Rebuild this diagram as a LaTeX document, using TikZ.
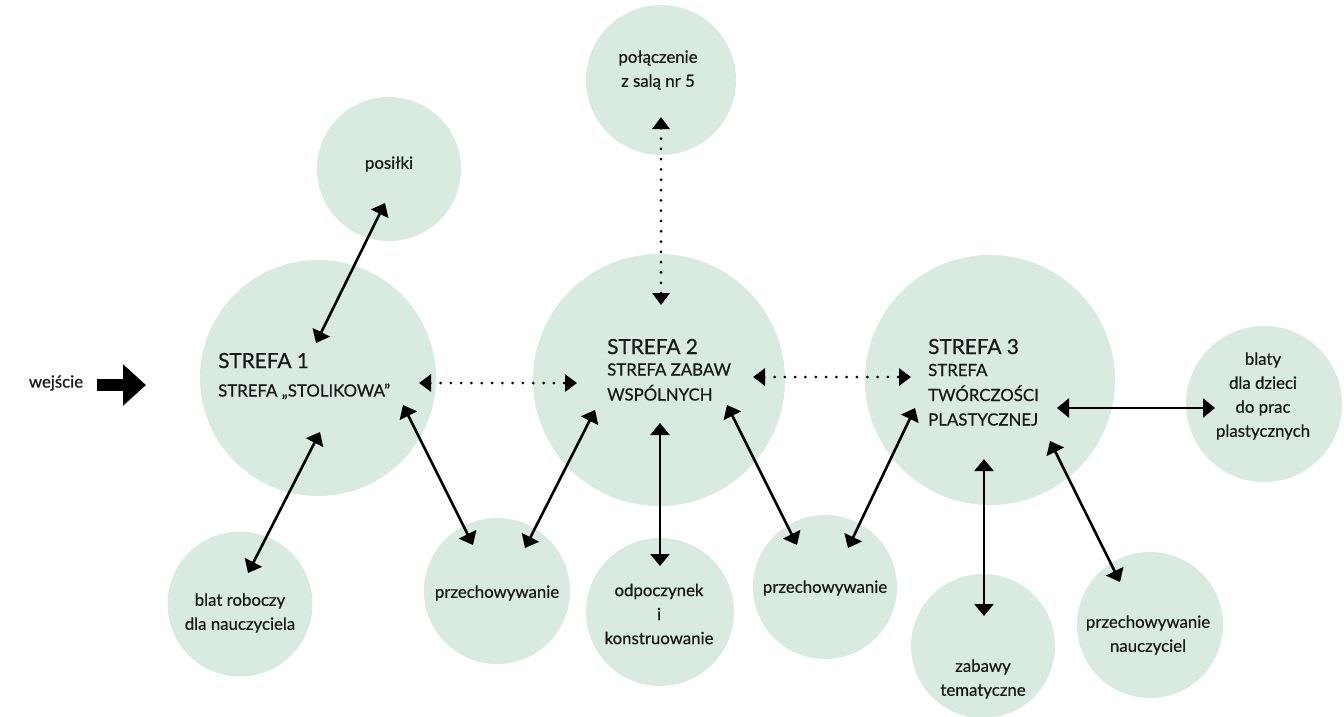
\documentclass[tikz,border=0pt]{standalone}
\usepackage{fontspec}
\setmainfont{Lato}[FakeBold=0.6]
\usetikzlibrary{arrows.meta}
\definecolor{zonefill}{RGB}{217,234,224}
\definecolor{ink}{RGB}{25,25,25}
\tikzset{
  zone/.style={circle, fill=zonefill, draw=none, inner sep=0pt},
  lbl/.style={align=center, text=ink, font=\fontsize{16.8}{24}\selectfont},
  head/.style={anchor=base west, text=ink, inner sep=0pt, font=\fontsize{20.8}{22}\selectfont},
  sub/.style={anchor=base west, text=ink, inner sep=0pt, font=\fontsize{16.8}{22}\selectfont},
  link/.style={line width=2.6pt, draw=black, {Triangle[length=12pt,width=19pt]}-{Triangle[length=12pt,width=19pt]}},
  dotlink/.style={line width=3pt, draw=black, line cap=round, dash pattern=on 0pt off 10.3pt,
     {Triangle[length=12pt,width=17pt]}-{Triangle[length=12pt,width=17pt]}},
}
\begin{document}
\begin{tikzpicture}[x=1pt,y=-1pt]
\useasboundingbox (0,0) rectangle (1344,716);
% circles
\node[zone, minimum size=144pt] (pos) at (389,169) {};
\node[zone, minimum size=150pt] (pol) at (661,80) {};
\node[zone, minimum size=236pt] (s1) at (318,378) {};
\node[zone, minimum size=252pt] (s2) at (659,380) {};
\node[zone, minimum size=250pt] (s3) at (990,380) {};
\node[zone, minimum size=156pt] (bl) at (1264,404) {};
\node[zone, minimum size=145pt] (br) at (240,604) {};
\node[zone, minimum size=146pt] (p1) at (497,591) {};
\node[zone, minimum size=148pt] (od) at (660,612) {};
\node[zone, minimum size=144pt] (p2) at (825,587) {};
\node[zone, minimum size=144pt] (zt) at (983,646) {};
\node[zone, minimum size=146pt] (pn) at (1150,625) {};
% circle labels
\node[lbl] (posT) at (389,164) {posiłki};
\node[lbl] (polT) at (658,70) {połączenie\\z salą nr 5};
\node[lbl] (blT) at (1263,396) {blaty\\dla dzieci\\do prac\\plastycznych};
\node[lbl] (brT) at (240,613) {blat roboczy\\dla nauczyciela};
\node[lbl] (p1T) at (497,593) {przechowywanie};
\node[lbl] (odT) at (659,614) {odpoczynek\\i\\konstruowanie};
\node[lbl] (p2T) at (825,588) {przechowywanie};
\node[lbl] (ztT) at (983,679) {zabawy\\tematyczne};
\node[lbl] (pnT) at (1148,635) {przechowywanie\\nauczyciel};
% zone titles
\node[head] (s1a) at (218,368) {STREFA 1};
\node[sub] (s1b) at (218,396.5) {STREFA „STOLIKOWA”};
\node[head] (s2a) at (607,354) {STREFA 2};
\node[sub] (s2b) at (607,375.5) {STREFA ZABAW};
\node[sub] (s2c) at (607,400.5) {WSPÓLNYCH};
\node[head] (s3a) at (928,354) {STREFA 3};
\node[sub] (s3b) at (928,376) {STREFA};
\node[sub] (s3c) at (928,401) {TWÓRCZOŚCI};
\node[sub] (s3d) at (928,425.5) {PLASTYCZNEJ};
% entrance
\node[lbl] (we) at (56,383) {wejście};
\coordinate (weA) at (97,385);
\coordinate (weB) at (146,385);
\draw[line width=12pt, -{Triangle[length=23pt,width=40pt]}] (weA) -- (weB);
% connector end points
\coordinate (a1) at (385,203); \coordinate (a2) at (316,343);
\coordinate (b1) at (320,432); \coordinate (b2) at (248,573);
\coordinate (c1) at (403,405); \coordinate (c2) at (473,545);
\coordinate (d1) at (595,410); \coordinate (d2) at (525,548);
\coordinate (e1) at (660,423); \coordinate (e2) at (660,566);
\coordinate (f1) at (727,405); \coordinate (f2) at (797,545);
\coordinate (g1) at (915,408); \coordinate (g2) at (848,548);
\coordinate (h1) at (984,459); \coordinate (h2) at (984,616);
\coordinate (i1) at (1050,441); \coordinate (i2) at (1120,582);
\coordinate (j1) at (1057,408); \coordinate (j2) at (1215,408);
\coordinate (k1) at (419,383); \coordinate (k2) at (577,383);
\coordinate (l1) at (753,377); \coordinate (l2) at (911,377);
\coordinate (m1) at (661,117); \coordinate (m2) at (661,305);
% connectors
\draw[link] (a1) -- (a2);
\draw[link] (b1) -- (b2);
\draw[link] (c1) -- (c2);
\draw[link] (d1) -- (d2);
\draw[link] (e1) -- (e2);
\draw[link] (f1) -- (f2);
\draw[link] (g1) -- (g2);
\draw[link] (h1) -- (h2);
\draw[link] (i1) -- (i2);
\draw[link] (j1) -- (j2);
\draw[dotlink] (k1) -- (k2);
\draw[dotlink] (l1) -- (l2);
\draw[dotlink] (m1) -- (m2);
\end{tikzpicture}
\end{document}
